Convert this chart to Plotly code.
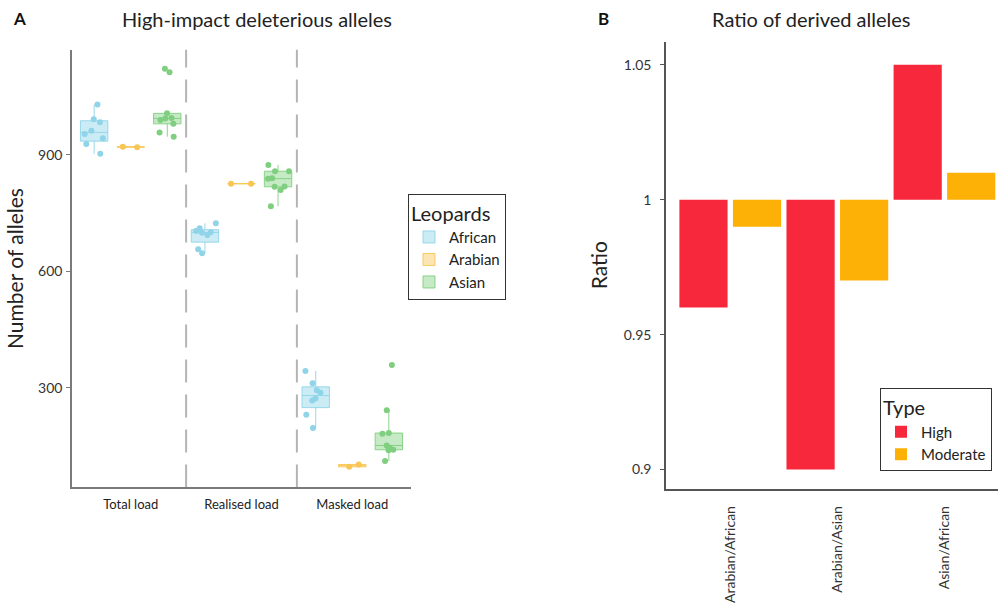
import plotly.graph_objects as go

# ---------------- data ----------------
loads = ["Total load", "Realised load", "Masked load"]

african = {
    "Total load":    [1030, 992, 984, 962, 954, 943, 928, 903],
    "Realised load": [724, 711, 704, 701, 700, 694, 657, 647],
    "Masked load":   [344, 312, 294, 288, 273, 268, 231, 197],
}
arabian = {
    "Total load":    [921, 920],
    "Realised load": [826, 826],
    "Masked load":   [97, 103],
}
asian = {
    "Total load":    [1122, 1113, 1007, 995, 994, 990, 980, 958, 947],
    "Realised load": [874, 858, 858, 840, 839, 819, 818, 810, 768],
    "Masked load":   [359, 243, 184, 182, 152, 146, 141, 140, 112],
}

comparisons = ["Arabian/African", "Arabian/Asian", "Asian/African"]
ratio_high = [0.96, 0.90, 1.05]
ratio_moderate = [0.99, 0.97, 1.01]
ratio_baseline = 1.0

ratio_ticks = [0.9, 0.95, 1.0, 1.05]
ratio_ticktext = ["0.9", "0.95", "1", "1.05"]
count_ticks = [300, 600, 900]

FONT = "Lato"

pops = [
    ("African", african, "#8fd4e8", "rgba(143,212,232,0.45)", "rgba(143,212,232,0.9)"),
    ("Arabian", arabian, "#f8c654", "rgba(248,198,84,0.45)", "rgba(248,198,84,0.9)"),
    ("Asian", asian, "#80cf80", "rgba(128,207,128,0.45)", "rgba(128,207,128,0.9)"),
]

fig = go.Figure()

for name, d, pcol, fcol, lcol in pops:
    xs, ys = [], []
    for ld in loads:
        xs += [ld] * len(d[ld])
        ys += d[ld]
    fig.add_trace(go.Box(
        x=xs, y=ys, name=name, offsetgroup=name,
        boxpoints="all", jitter=0.9, pointpos=0, quartilemethod="inclusive",
        marker=dict(color=pcol, size=6, opacity=1),
        fillcolor=fcol, line=dict(color=lcol, width=1),
        whiskerwidth=0, xaxis="x", yaxis="y", legend="legend",
        hoverinfo="y",
    ))

fig.add_trace(go.Bar(
    x=comparisons, y=[v - ratio_baseline for v in ratio_high], base=ratio_baseline,
    name="High", marker=dict(color="#f7283b", line=dict(width=0)),
    xaxis="x2", yaxis="y2", legend="legend2", offsetgroup="High",
))
fig.add_trace(go.Bar(
    x=comparisons, y=[v - ratio_baseline for v in ratio_moderate], base=ratio_baseline,
    name="Moderate", marker=dict(color="#fdb006", line=dict(width=0)),
    xaxis="x2", yaxis="y2", legend="legend2", offsetgroup="Moderate",
))

# dashed separators between load categories
for pos in [0.5, 1.5]:
    fig.add_shape(type="line", xref="x", yref="y domain", x0=pos, x1=pos, y0=0, y1=1,
                  line=dict(color="#b4b4b4", width=2, dash="23px,12px"), layer="below")

W, H = 998, 603
fig.update_layout(
    width=W, height=H, margin=dict(l=0, r=0, t=0, b=0),
    paper_bgcolor="white", plot_bgcolor="white",
    font=dict(family=FONT, color="#222222"),
    boxmode="group", boxgap=0.01, boxgroupgap=0.25,
    barmode="group", bargap=0.0, bargroupgap=0.1,
    xaxis=dict(domain=[72 / W, 411 / W], anchor="y", type="category",
               categoryorder="array", categoryarray=loads,
               range=[-0.53, 2.53], showline=True, linecolor="#7a7a7a", linewidth=1.5,
               ticks="", showgrid=False, zeroline=False,
               tickfont=dict(size=13, color="#222"), ticklabelstandoff=4),
    yaxis=dict(domain=[1 - 490.7 / H, 1 - 50 / H], anchor="x",
               range=[44, 1171], tickvals=count_ticks, showline=True,
               linecolor="#7a7a7a", linewidth=1.5, ticks="outside", ticklen=4,
               tickcolor="#7a7a7a", showgrid=False, zeroline=False,
               tickfont=dict(size=14, color="#333"), ticklabelstandoff=1,
               title=dict(text="Number of alleles", font=dict(size=21, color="#222"), standoff=9)),
    xaxis2=dict(domain=[666 / W, 1.0], anchor="y2", type="category",
                categoryorder="array", categoryarray=comparisons,
                range=[-0.6, 2.5], showline=True, linecolor="#555", linewidth=1.5,
                ticks="", tickangle=-90, showgrid=False, zeroline=False,
                tickfont=dict(size=14, color="#333"), ticklabelstandoff=10),
    yaxis2=dict(domain=[1 - 492 / H, 1 - 42 / H], anchor="x2",
                range=[0.8929, 1.0585], tickvals=ratio_ticks, ticktext=ratio_ticktext,
                showline=True, linecolor="#555", linewidth=1.5, ticks="outside",
                ticklen=4, tickcolor="#555", showgrid=False, zeroline=False,
                tickfont=dict(size=14, color="#333"), ticklabelstandoff=6,
                title=dict(text="Ratio", font=dict(size=21, color="#222"), standoff=10)),
    legend=dict(x=408 / W, y=1 - 195 / H, xanchor="left", yanchor="top",
                bordercolor="#333", borderwidth=1, bgcolor="white",
                title=dict(text="Leopards", font=dict(size=20, color="#222")),
                font=dict(size=15, color="#222"), tracegroupgap=0, itemwidth=30),
    legend2=dict(x=880 / W, y=1 - 391 / H, xanchor="left", yanchor="top",
                 bordercolor="#333", borderwidth=1, bgcolor="white",
                 title=dict(text="Type", font=dict(size=20, color="#222")),
                 font=dict(size=15, color="#222"), tracegroupgap=0, itemwidth=30),
    showlegend=True,
)

fig.add_annotation(text="<b>A</b>", x=19 / W, y=1 - 19 / H, xref="paper", yref="paper",
                   showarrow=False, font=dict(size=17, color="#111"), xanchor="center", yanchor="middle")
fig.add_annotation(text="<b>B</b>", x=603 / W, y=1 - 19 / H, xref="paper", yref="paper",
                   showarrow=False, font=dict(size=17, color="#111"), xanchor="center", yanchor="middle")
fig.add_annotation(text="High-impact deleterious alleles", x=257 / W, y=1 - 19 / H,
                   xref="paper", yref="paper", showarrow=False,
                   font=dict(size=20, color="#222"), xanchor="center", yanchor="middle")
fig.add_annotation(text="Ratio of derived alleles", x=710 / W, y=1 - 19 / H,
                   xref="paper", yref="paper", showarrow=False,
                   font=dict(size=20, color="#222"), xanchor="left", yanchor="middle")

fig.write_html("out.html")
